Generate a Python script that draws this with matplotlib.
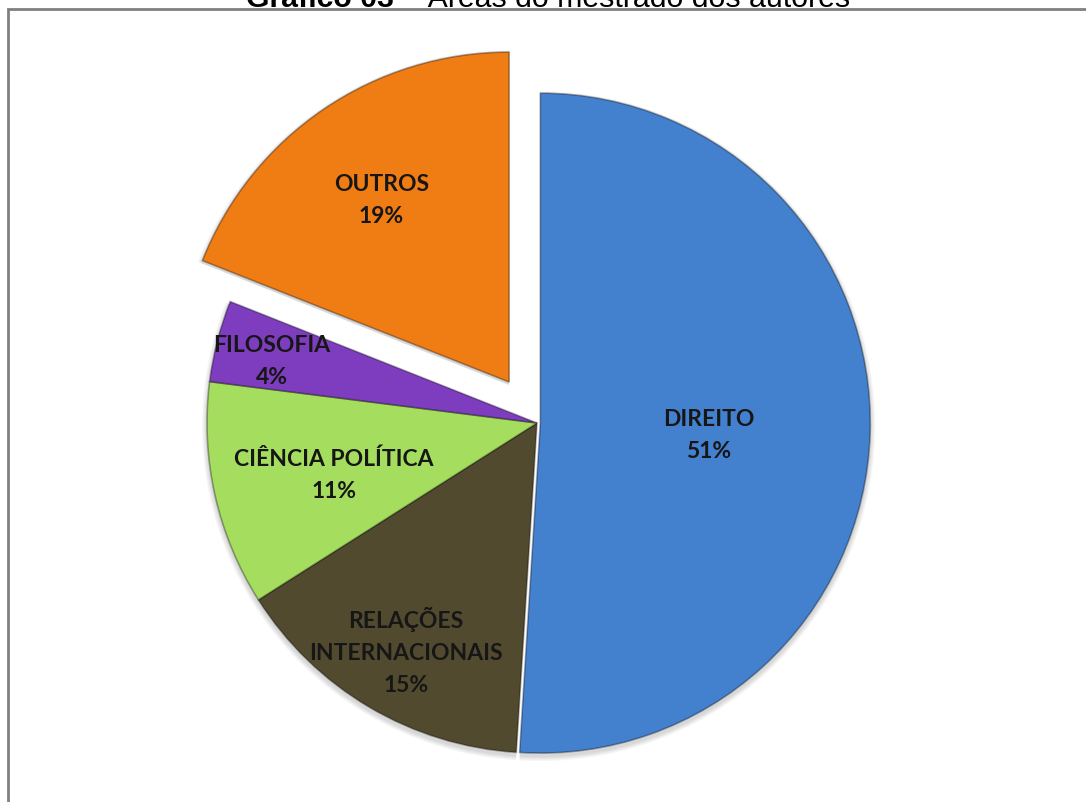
import numpy as np
import matplotlib.pyplot as plt
from matplotlib.patches import Rectangle, Wedge

areas = ["DIREITO", "RELAÇÕES\nINTERNACIONAIS", "CIÊNCIA POLÍTICA", "FILOSOFIA", "OUTROS"]
percent = [51, 15, 11, 4, 19]
colors = ["#4381CF", "#514A2F", "#A5DE5E", "#7E3DBE", "#F07C14"]
explode = [0.01, 0, 0, 0, 0.15]
# how far out along each slice the label sits (fraction of radius)
label_pos = [0.51, 0.78, 0.63, 0.83, 0.69]

W, H = 1086, 802
cx, cy, r = 537, H - 423, 330

fig = plt.figure(figsize=(W / 100, H / 100), dpi=100)
ax = fig.add_axes([0, 0, 1, 1])

# pie() takes explode in data units, so scale it by the radius
wedges, _ = ax.pie(percent, colors=colors, explode=[e * r for e in explode],
                   startangle=90, counterclock=False, center=(cx, cy), radius=r,
                   wedgeprops=dict(edgecolor="#00000055", linewidth=1.2, zorder=3))

# sombra suave de cada fatia, um pouco abaixo
for w in wedges:
    x0, y0 = w.center
    for k in range(5):
        ax.add_patch(Wedge((x0, y0 - 3), w.r + 5 - k, w.theta1, w.theta2,
                           color="#000000", alpha=0.03, lw=0, zorder=1))

for w, name, p, d in zip(wedges, areas, percent, label_pos):
    mid = np.deg2rad((w.theta1 + w.theta2) / 2)
    x = w.center[0] + r * d * np.cos(mid)
    y = w.center[1] + r * d * np.sin(mid) - 7
    ax.text(x, y, f"{name}\n{p}%", ha="center", va="center", fontsize=16.5,
            fontweight="bold", family="Lato", color="#161616", linespacing=1.65,
            zorder=5)

# moldura cinza do gráfico
ax.add_patch(Rectangle((8, -20), W, H - 9 + 20, fill=False, edgecolor="#808080", linewidth=2))

t1 = ax.text(246, H - 7, "Gráfico 03", fontsize=21.8, fontweight="bold",
             family="Liberation Sans", va="baseline", ha="left")
ax.annotate(" – Áreas do mestrado dos autores", xy=(1, 0), xycoords=t1,
            va="bottom", ha="left", fontsize=21.8, family="Liberation Sans")

ax.set_xlim(0, W)
ax.set_ylim(0, H)
ax.set_aspect("equal")
ax.axis("off")

fig.savefig("out.png", dpi=100)
